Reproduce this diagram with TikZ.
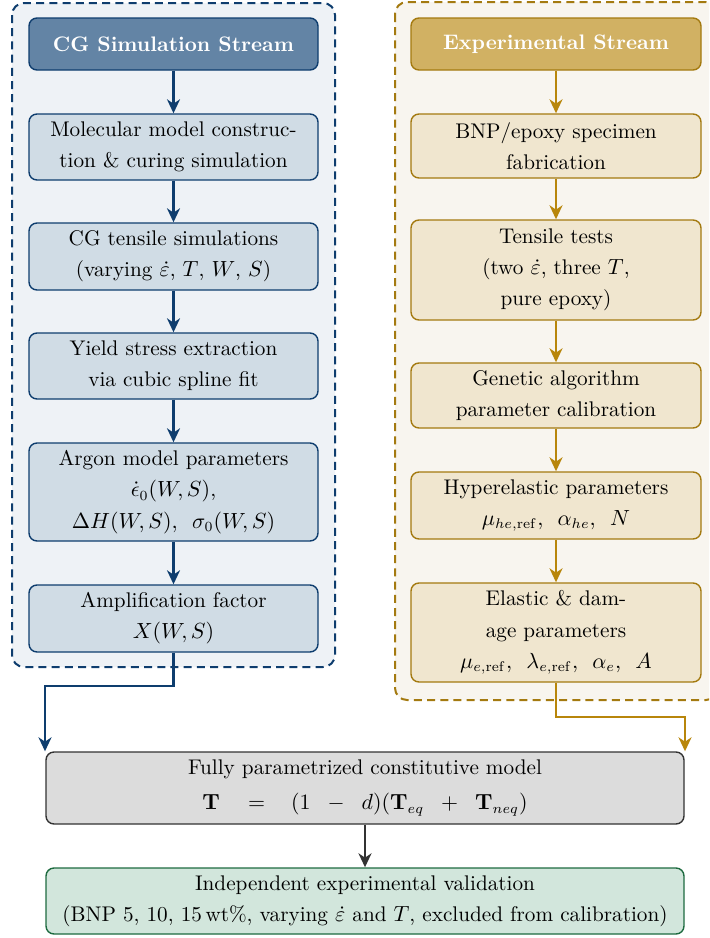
\documentclass[tikz,border=0pt]{standalone}
\usepackage{amsmath}
\usetikzlibrary{arrows.meta}
\definecolor{cgdark}{HTML}{0E3D6E}
\definecolor{cgbg}{HTML}{EEF2F6}
\definecolor{cgnode}{HTML}{D0DCE5}
\definecolor{cghead}{HTML}{6384A5}
\definecolor{exdark}{HTML}{A47A10}
\definecolor{exline}{HTML}{B8860B}
\definecolor{exbg}{HTML}{F8F5EF}
\definecolor{exnode}{HTML}{F0E6CF}
\definecolor{exhead}{HTML}{D1B163}
\definecolor{modfill}{HTML}{DCDCDC}
\definecolor{moddraw}{HTML}{333333}
\definecolor{valfill}{HTML}{D2E6DC}
\definecolor{valdraw}{HTML}{1E6B40}
\tikzset{
  box/.style={rounded corners=4pt, line width=0.7pt, align=center, inner sep=2pt,
    font=\fontsize{10.6}{15.6}\selectfont},
  cgbox/.style={box, draw=cgdark, fill=cgnode, minimum width=144.5pt},
  exbox/.style={box, draw=exdark, fill=exnode, minimum width=145pt},
  cghd/.style={cgbox, fill=cghead, text=white, font=\fontsize{10.5}{13}\selectfont\bfseries},
  exhd/.style={exbox, fill=exhead, text=white, font=\fontsize{10.5}{13}\selectfont\bfseries},
  container/.style={rounded corners=6pt, line width=1pt, dash pattern=on 4pt off 2.6pt},
  tip/.style={-{Stealth[length=7pt,width=6.5pt,inset=2.2pt]}, line width=1.1pt},
  cgarrow/.style={tip, draw=cgdark},
  exarrow/.style={tip, draw=exline},
  grarrow/.style={tip, draw=moddraw}
}
\begin{document}
\begin{tikzpicture}[x=0.5pt,y=-0.5pt]
\clip (0,0) rectangle (709,938);
\useasboundingbox (0,0) rectangle (709,938);
% containers
\draw[container, draw=cgdark, fill=cgbg] (12,3) rectangle (335,667);
\draw[container, draw=exdark, fill=exbg] (395,2) rectangle (718,700);
% left stream
\node[cghd, minimum height=26pt] (l1) at (173.5,44) {CG Simulation Stream};
\node[cgbox, minimum height=33pt] (l2) at (173.5,147) {Molecular model construc-\\tion \& curing simulation};
\node[cgbox, minimum height=33.5pt] (l3) at (173.5,256.5) {CG tensile simulations\\(varying $\dot{\varepsilon}$, $T$, $W$, $S$)};
\node[cgbox, minimum height=33pt] (l4) at (173.5,366) {Yield stress extraction\\via cubic spline fit};
\node[cgbox, minimum height=49pt] (l5) at (173.5,492) {Argon model parameters\\$\dot{\epsilon}_0(W,S)$,\\$\Delta H(W,S),\ \,\sigma_0(W,S)$};
\node[cgbox, minimum height=33.5pt] (l6) at (173.5,618.5) {Amplification factor\\$X(W,S)$};
% right stream
\node[exhd, minimum height=26pt] (r1) at (556,44) {Experimental Stream};
\node[exbox, minimum height=32pt] (r2) at (556,146) {BNP/epoxy specimen\\fabrication};
\node[exbox, minimum height=50pt] (r3) at (556,270) {Tensile tests\\(two $\dot{\varepsilon}$, three $T$,\\pure epoxy)};
\node[exbox, minimum height=32.5pt] (r4) at (556,395.5) {Genetic algorithm\\parameter calibration};
\node[exbox, minimum height=33.5pt] (r5) at (556,505.5) {Hyperelastic parameters\\$\mu_{he,\mathrm{ref}},\ \,\alpha_{he},\ \,N$};
\node[exbox, minimum height=49.5pt] (r6) at (556,632.5) {Elastic \& dam-\\age parameters\\$\mu_{e,\mathrm{ref}},\ \,\lambda_{e,\mathrm{ref}},\ \,\alpha_{e},\ \,A$};
% bottom
\node[box, draw=moddraw, fill=modfill, minimum width=319pt, minimum height=36pt] (model) at (365,788)
  {Fully parametrized constitutive model\\[2pt]$\mathbf{T}\hspace{11pt}=\hspace{10pt}(1\;\;-\;\;d)(\mathbf{T}_{eq}\;\;+\;\;\mathbf{T}_{neq})$};
\node[box, draw=valdraw, fill=valfill, minimum width=319pt, minimum height=33pt] (val) at (365,901)
  {Independent experimental validation\\(BNP 5, 10, 15\,wt\%, varying $\dot{\varepsilon}$ and $T$, excluded from calibration)};
% arrows
\draw[cgarrow] (l1) -- (l2);
\draw[cgarrow] (l2) -- (l3);
\draw[cgarrow] (l3) -- (l4);
\draw[cgarrow] (l4) -- (l5);
\draw[cgarrow] (l5) -- (l6);
\draw[exarrow] (r1) -- (r2);
\draw[exarrow] (r2) -- (r3);
\draw[exarrow] (r3) -- (r4);
\draw[exarrow] (r4) -- (r5);
\draw[exarrow] (r5) -- (r6);
\coordinate (lj) at (45,686);
\coordinate (rj) at (685,717);
\draw[cgarrow] (l6.south) |- (lj) -- (lj |- model.north);
\draw[exarrow] (r6.south) |- (rj) -- (rj |- model.north);
\draw[grarrow] (model) -- (val);
\end{tikzpicture}
\end{document}
